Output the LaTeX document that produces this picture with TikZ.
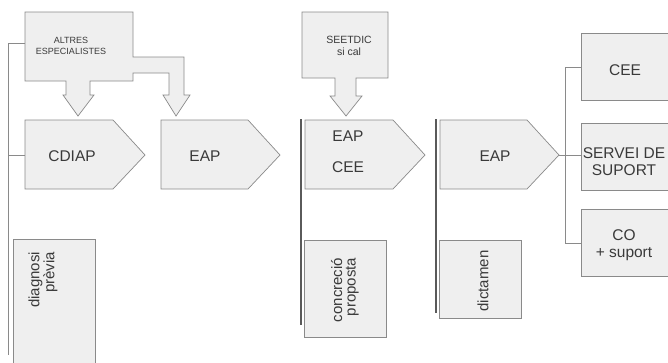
\documentclass[tikz,border=0pt]{standalone}
\usepackage{fontspec}
\setmainfont{Liberation Sans}
\definecolor{boxfill}{HTML}{EFEFEF}
\definecolor{edgegray}{HTML}{8A8A8A}
\definecolor{ink}{HTML}{3A3A3A}
\definecolor{rulegray}{HTML}{5A5A5A}
\begin{document}
\begin{tikzpicture}[x=1pt,y=-1pt,
  boxsh/.style={draw=edgegray,fill=boxfill,line width=0.7pt,line join=miter},
  lbl/.style={text=ink,inner sep=0pt,align=center,font=\fontsize{15.5}{17}\selectfont},
  rotlbl/.style={lbl,rotate=90,align=right,font=\fontsize{15}{13.5}\selectfont},
  smalllbl/.style={lbl,font=\fontsize{9}{11}\selectfont},
  midlbl/.style={lbl,font=\fontsize{10.5}{12}\selectfont},
  thinline/.style={draw=edgegray,line width=0.8pt},
  darkline/.style={draw=rulegray,line width=1.3pt}]
\useasboundingbox (0,0) rectangle (668,362);
\clip (0,0) rectangle (668,362);

% ALTRES ESPECIALISTES box with two arrows
\path[boxsh] (25,12) -- (133,12) -- (133,57) -- (184,57) -- (184,95) -- (190,95)
  -- (176,116) -- (163,95) -- (169,95) -- (169,73) -- (133,73) -- (133,81)
  -- (90,81) -- (90,95) -- (94,95) -- (78,116) -- (63,95) -- (66,95) -- (66,81)
  -- (25,81) -- cycle;
\node[smalllbl] (altres) at (71,46) {ALTRES\\ESPECIALISTES};
\coordinate (altresW) at (25,43);

% SEETDIC box with arrow
\path[boxsh] (302,12) -- (388,12) -- (388,78) -- (356,78) -- (356,96) -- (362,96)
  -- (346,116) -- (330,96) -- (335,96) -- (335,78) -- (302,78) -- cycle;
\node[midlbl] (seetdic) at (349,46) {SEETDIC\\si cal};

% pentagons
\path[boxsh] (25,120) -- (113,120) -- (145,155) -- (113,189) -- (25,189) -- cycle;
\node[lbl] (cdiap) at (72,156) {CDIAP};
\coordinate (cdiapW) at (25,155);

\path[boxsh] (161,120) -- (248,120) -- (280,155) -- (248,189) -- (161,189) -- cycle;
\node[lbl] (eapa) at (205,156) {EAP};

\path[boxsh] (305,120) -- (393,120) -- (425,155) -- (393,189) -- (305,189) -- cycle;
\node[lbl,font=\fontsize{15.5}{31}\selectfont] (eapcee) at (348,152) {EAP\\CEE};

\path[boxsh] (440,120) -- (527,120) -- (559,155) -- (527,189) -- (440,189) -- cycle;
\node[lbl] (eapb) at (495,156) {EAP};
\coordinate (eapbE) at (559,155);

% lower boxes
\path[boxsh] (13,239) rectangle (95,368);
\node[rotlbl] (diag) at (43,280) {diagnosi\\prèvia};
\path[boxsh] (304,240) rectangle (386,337);
\node[rotlbl] (concr) at (345,290) {concreció\\proposta};
\path[boxsh] (439,240) rectangle (521,318);
\node[rotlbl] (dict) at (483,281) {dictamen};

% right boxes
\path[boxsh] (581,33) rectangle (675,100);
\node[lbl] (cee) at (625,70) {CEE};
\coordinate (ceeW) at (581,67);
\path[boxsh] (581,123) rectangle (675,190);
\node[lbl] (servei) at (624,162) {SERVEI DE\\SUPORT};
\coordinate (serveiW) at (581,155);
\path[boxsh] (581,209) rectangle (675,276);
\node[lbl] (co) at (624,245) {CO\\+ suport};
\coordinate (coW) at (581,243);

% connectors
\coordinate (lt) at (8,43);
\coordinate (lb) at (8,355);
\coordinate (lm) at (8,155);
\draw[thinline] (altresW) -- (lt) -- (lb);
\draw[thinline] (lm) -- (cdiapW);

\coordinate (v1t) at (301,119);
\coordinate (v1b) at (301,325);
\draw[darkline] (v1t) -- (v1b);
\coordinate (v2t) at (436,119);
\coordinate (v2b) at (436,313);
\draw[darkline] (v2t) -- (v2b);

\coordinate (rt) at (565,67);
\coordinate (rb) at (565,243);
\draw[thinline] (ceeW) -- (rt) -- (rb) -- (coW);
\draw[thinline] (eapbE) -- (serveiW);
\end{tikzpicture}
\end{document}
